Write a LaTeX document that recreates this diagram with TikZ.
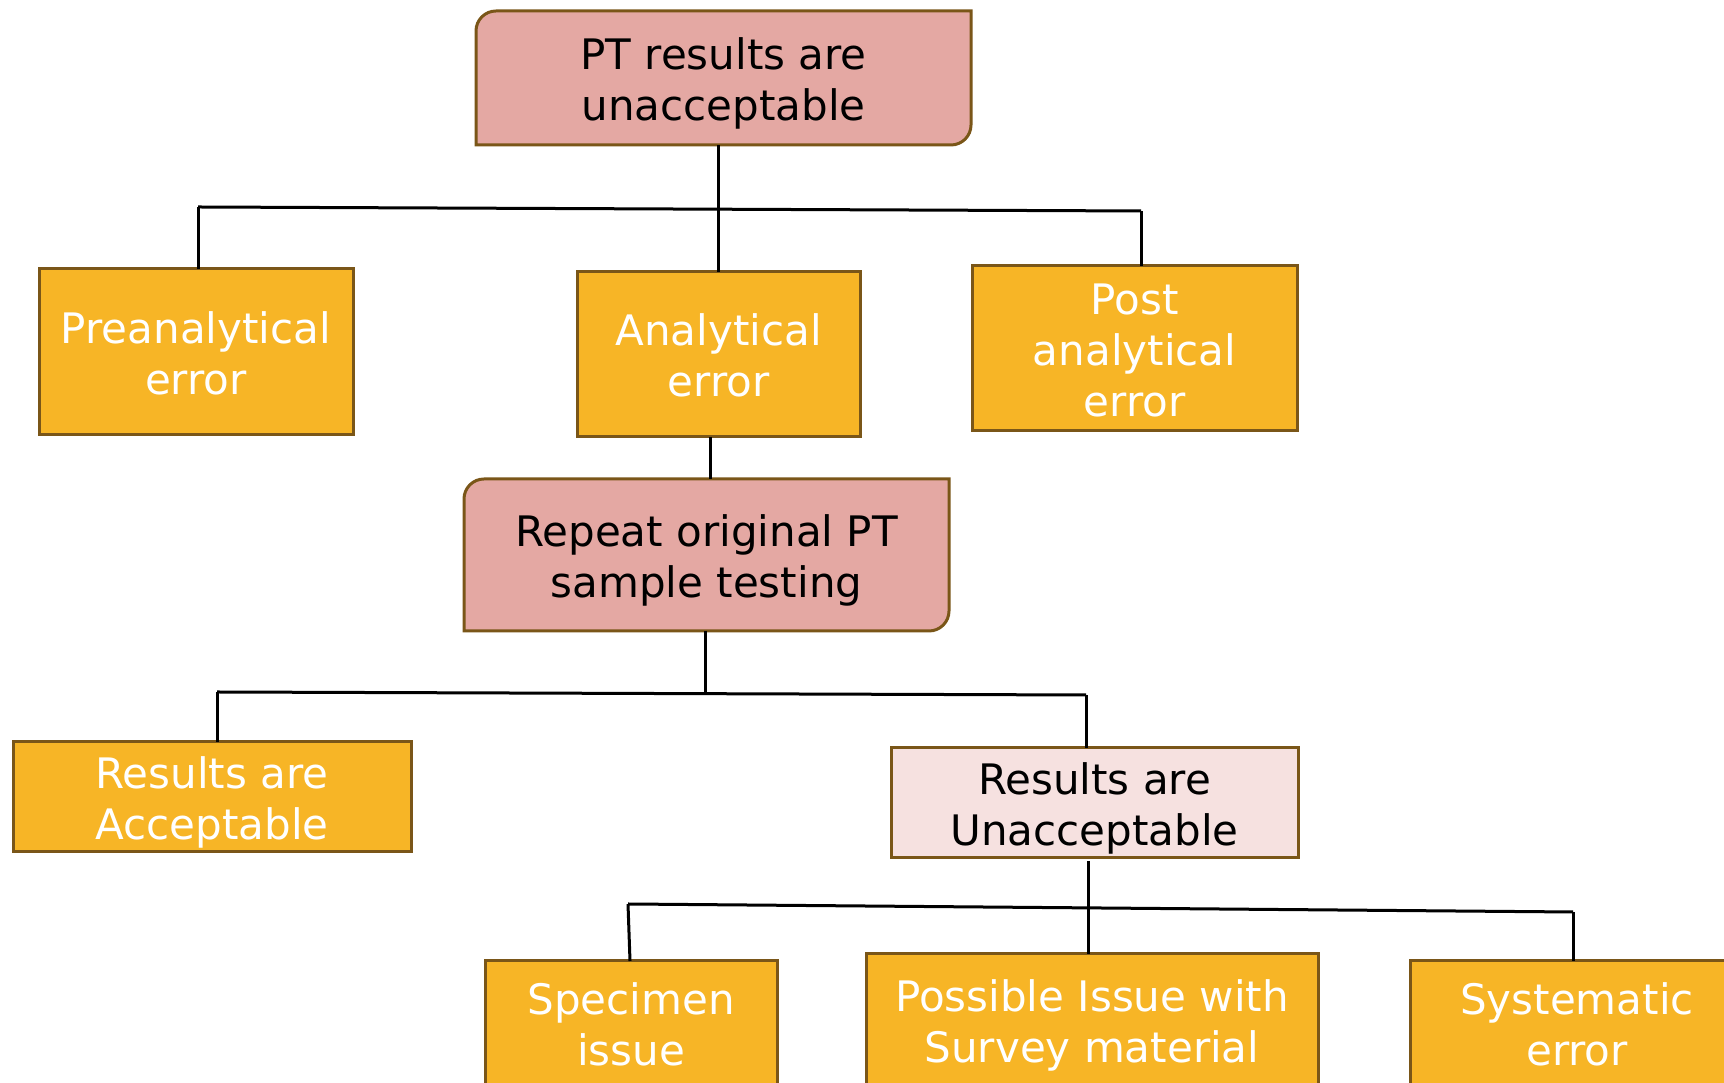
\documentclass[tikz,border=0pt]{standalone}
\usepackage{fontspec}
\setmainfont{DejaVu Sans}
\usetikzlibrary{calc,backgrounds}
\definecolor{boxpink}{HTML}{E4A8A3}
\definecolor{lightpink}{HTML}{F6E1E0}
\definecolor{boxorange}{HTML}{F7B526}
\definecolor{boxedge}{HTML}{7A5618}
\newcommand\myTopStrut{\rule{0pt}{45pt}}
\newcommand\myBotStrut{\rule[-11pt]{0pt}{11pt}}
\tikzset{
  basebox/.style={inner sep=0pt, outer sep=0pt, align=center,
    font=\fontsize{42}{51}\selectfont},
  orangebox/.style={basebox, draw=boxedge, line width=3pt, fill=boxorange, text=white},
  lightbox/.style={basebox, draw=boxedge, line width=3pt, fill=lightpink, text=black},
  pinkbox/.style={basebox, text=black},
  pinkshape/.style={draw=boxedge, line width=3pt, fill=boxpink},
  conn/.style={draw=black, line width=3pt}
}
\begin{document}
\begin{tikzpicture}[x=1pt,y=1pt]
\useasboundingbox (0,0) rectangle (1724,1083);
\clip (0,0) rectangle (1724,1083);

% nodes
\node[pinkbox, minimum width=495pt, minimum height=134pt] (top) at (723.5,1005) {\myTopStrut PT results are\\unacceptable\myBotStrut};
\node[orangebox, minimum width=314pt, minimum height=166pt] (pre) at (196,731) {\myTopStrut Preanalytical\\error\myBotStrut};
\node[orangebox, minimum width=283pt, minimum height=165pt] (ana) at (718.5,728.5) {\myTopStrut Analytical\\error\myBotStrut};
\node[orangebox, minimum width=325pt, minimum height=165pt] (post) at (1134.5,734.5) {\myTopStrut Post\\analytical\\error\myBotStrut};
\node[pinkbox, minimum width=485pt, minimum height=152pt] (rep) at (706.5,528) {\myTopStrut Repeat original PT\\sample testing\myBotStrut};
\node[orangebox, minimum width=398pt, minimum height=110pt] (acc) at (212,286) {\myTopStrut Results are\\Acceptable\myBotStrut};
\node[lightbox, minimum width=407pt, minimum height=110pt] (unacc) at (1094.5,280) {\myTopStrut Results are\\Unacceptable\myBotStrut};
\node[orangebox, minimum width=292pt, minimum height=124pt] (spec) at (631,60) {\myTopStrut Specimen\\issue\myBotStrut};
\node[orangebox, minimum width=452pt, minimum height=132pt] (poss) at (1092,63) {\myTopStrut Possible Issue with\\Survey material\myBotStrut};
\node[orangebox, minimum width=334pt, minimum height=124pt] (sys) at (1577,60) {\myTopStrut Systematic\\error\myBotStrut};

% rounded pink shapes behind text
\begin{scope}[on background layer]
\draw[pinkshape] (top.south west) -- ([yshift=-20pt]top.north west)
  arc[start angle=180, end angle=90, radius=20pt] -- (top.north east)
  -- ([yshift=20pt]top.south east)
  arc[start angle=0, end angle=-90, radius=20pt] -- cycle;
\draw[pinkshape] (rep.south west) -- ([yshift=-20pt]rep.north west)
  arc[start angle=180, end angle=90, radius=20pt] -- (rep.north east)
  -- ([yshift=20pt]rep.south east)
  arc[start angle=0, end angle=-90, radius=20pt] -- cycle;
\end{scope}

% junction coordinates
\coordinate (h1l) at (198,876);
\coordinate (h1r) at (1141,872);
\coordinate (c1) at (718,874);
\coordinate (c2) at (710,620);
\coordinate (c3) at (705,391);
\coordinate (h2l) at (217,391);
\coordinate (h2r) at (1086,388);
\coordinate (c4) at (1088,178);
\coordinate (h3l) at (628,179);
\coordinate (h3r) at (1573,171);

% level 1
\draw[conn] (h1l) -- (h1r);
\draw[conn] (top.south -| c1) -- (ana.north -| c1);
\draw[conn] (h1l) -- (pre.north -| h1l);
\draw[conn] (h1r) -- (post.north -| h1r);
% analytical to repeat
\draw[conn] (ana.south -| c2) -- (rep.north -| c2);
% level 2
\draw[conn] (rep.south -| c3) -- (c3);
\draw[conn] (h2l) -- (h2r);
\draw[conn] (h2l) -- (acc.north -| h2l);
\draw[conn] (h2r) -- (unacc.north -| h2r);
% level 3
\draw[conn] ([yshift=-3pt]unacc.south -| c4) -- (poss.north -| c4);
\draw[conn] (h3l) -- (h3r);
\draw[conn] (h3l) -- ([xshift=2pt]spec.north -| h3l);
\draw[conn] (h3r) -- (sys.north -| h3r);
\end{tikzpicture}
\end{document}
